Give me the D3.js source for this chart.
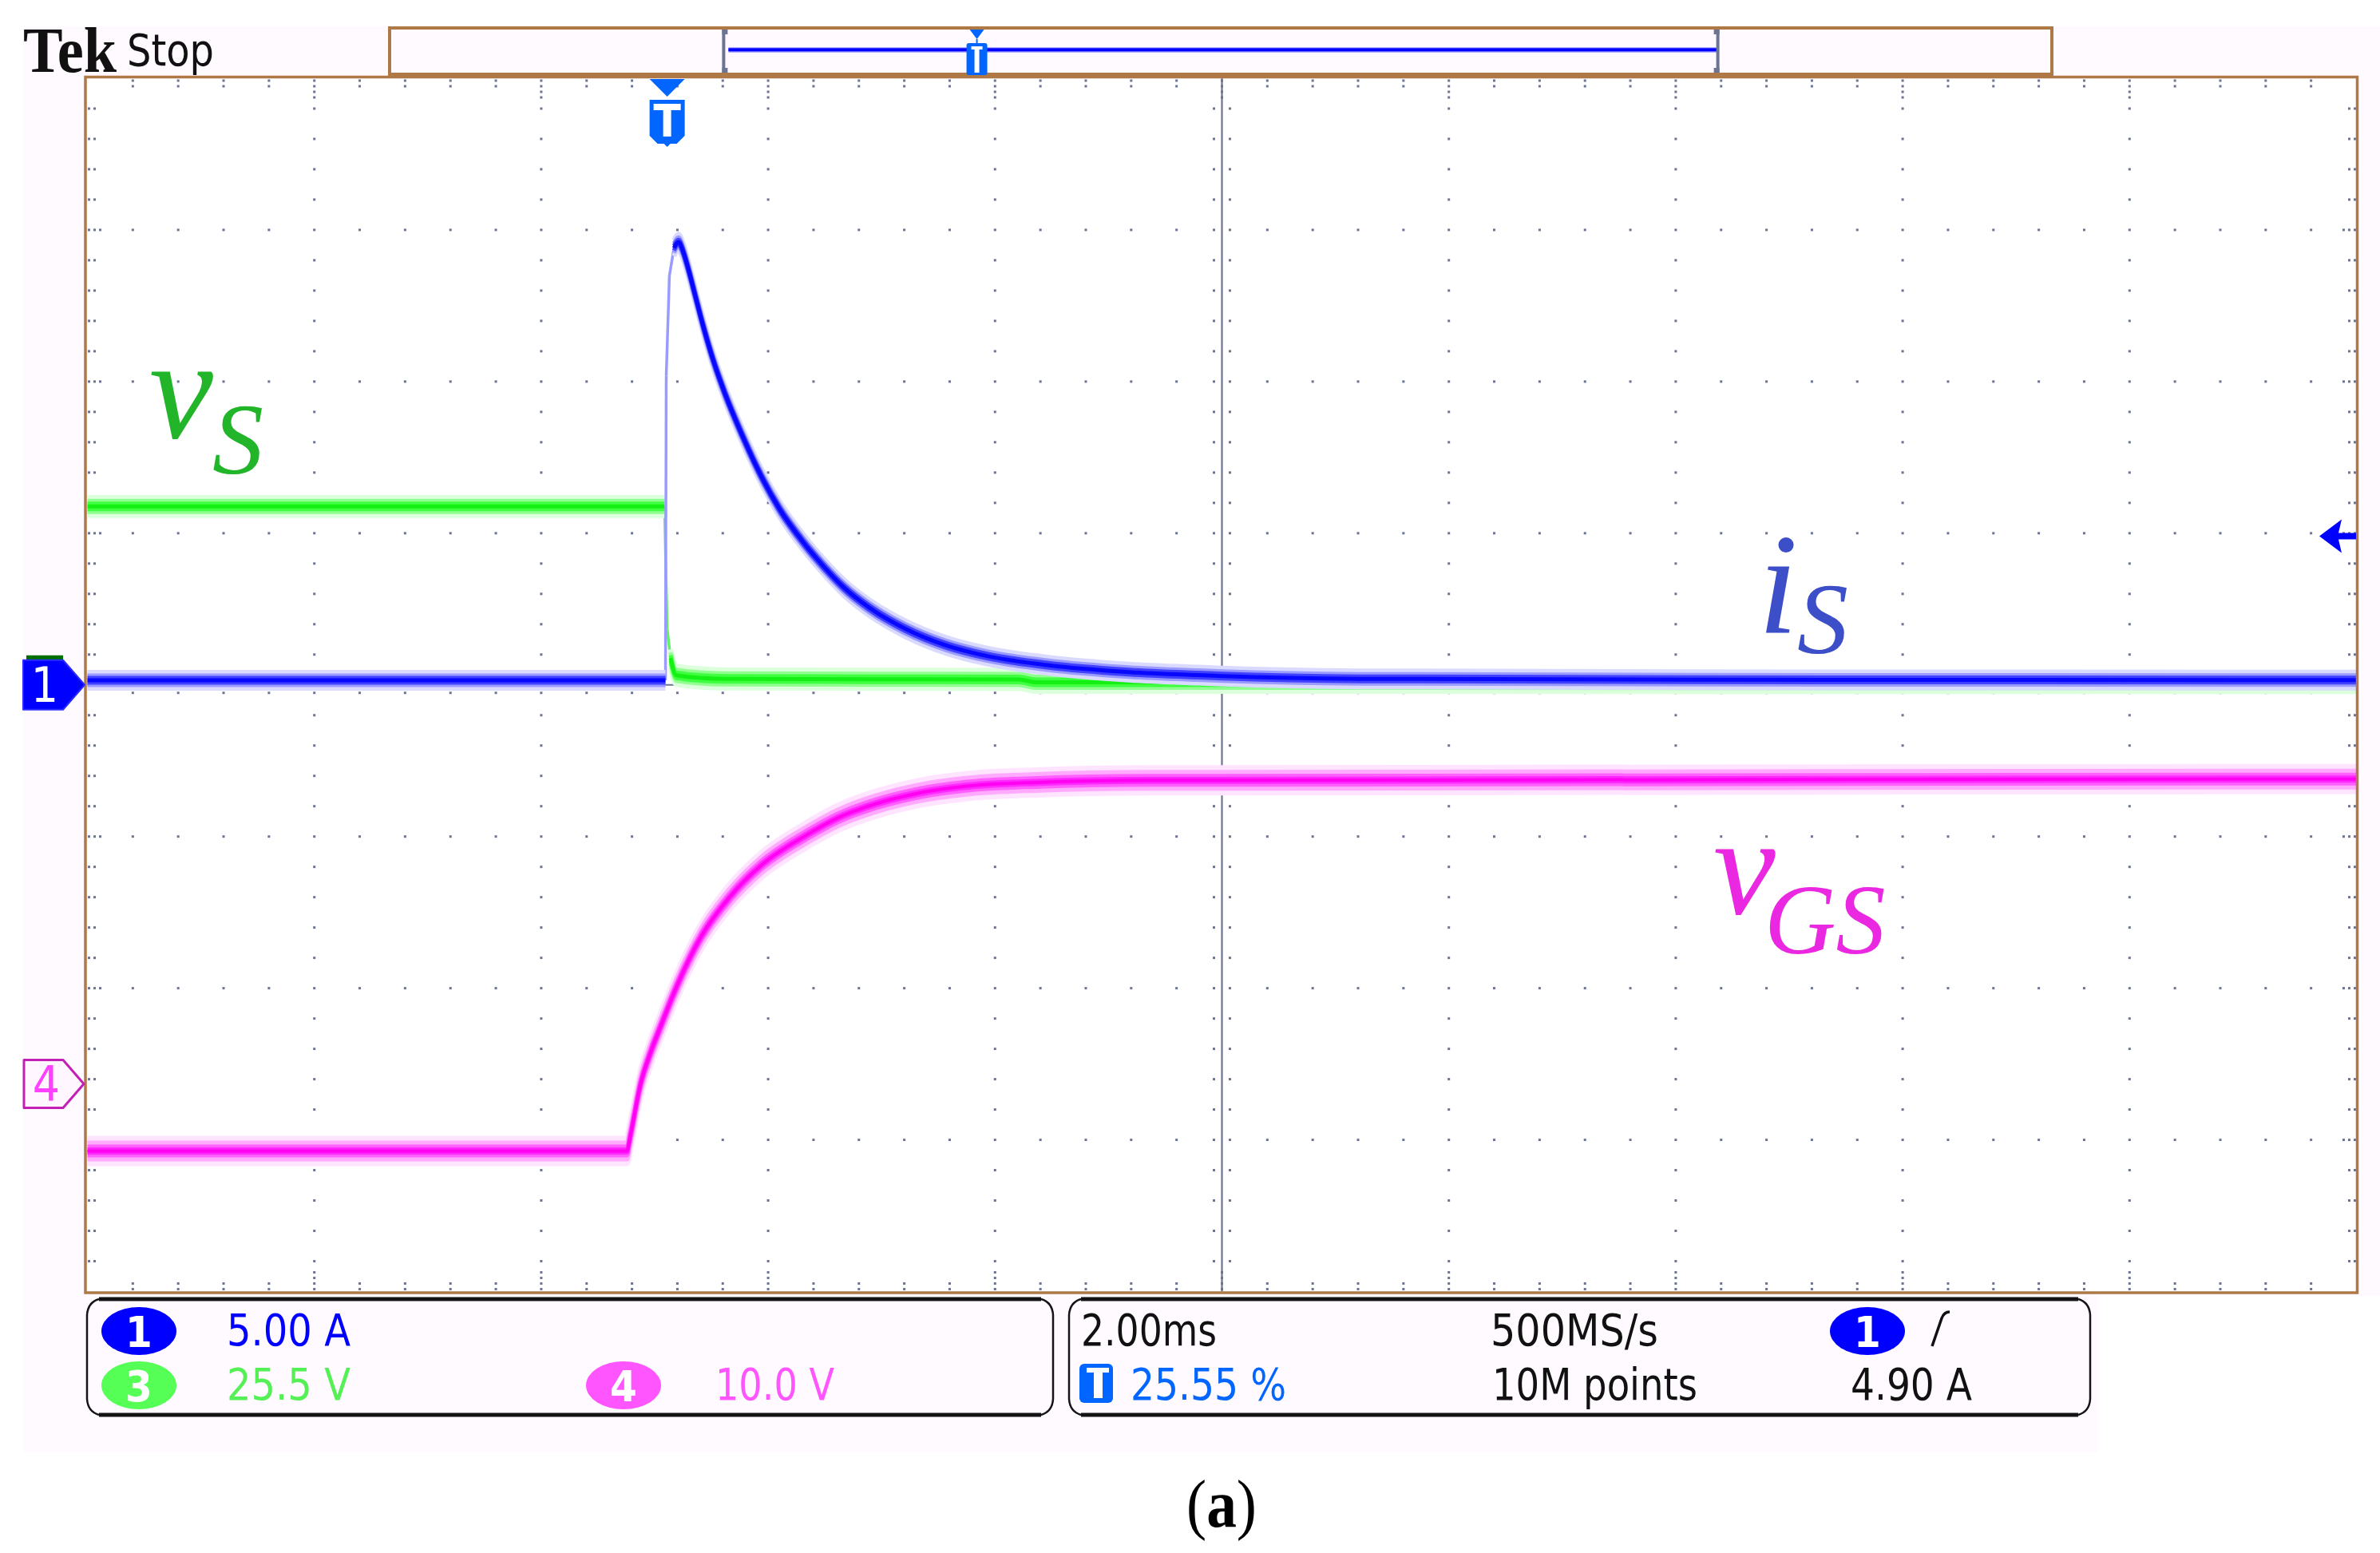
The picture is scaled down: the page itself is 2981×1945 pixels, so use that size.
<!DOCTYPE html>
<html><head><meta charset="utf-8">
<script src="https://cdn.jsdelivr.net/npm/d3@7"></script>
<style>html,body{margin:0;padding:0;background:#fff;}svg{display:block;}</style>
</head><body>
<svg id="c" width="2981" height="1945"></svg>
<script>
// ---------------- data (read from the oscilloscope capture) ----------------
const timeDomain = [-5.11, 14.89];            // ms across 10 div (2.00 ms/div, trigger at 25.55 %)
// i_S, channel 1 (A)
const iS_t = [-5.11, -0.015, -0.008, 0.02, 0.06, 0.10, 0.14, 0.18, 0.25, 0.32, 0.415, 0.51, 0.665, 0.84, 0.99, 1.20, 1.38, 1.56, 1.78, 2.10, 2.46, 2.82, 3.35, 4.07, 4.68, 6.10, 9.00, 14.89];
const iS_A = [0.15, 0.15, 10.2, 13.5, 14.4, 14.6, 14.3, 13.8, 12.8, 11.8, 10.6, 9.6, 8.2, 6.8, 5.8, 4.7, 3.9, 3.2, 2.55, 1.85, 1.30, 0.95, 0.65, 0.42, 0.32, 0.20, 0.17, 0.16];
// v_S, channel 3 (V)
const vS_t = [-5.11, -0.023, 0.0, 0.03, 0.08, 0.5, 3.1, 3.25, 14.89];
const vS_V = [30.0, 30.0, 9.4, 4.5, 1.6, 1.0, 0.9, 0.45, 0.4];
// v_GS, channel 4 (V)
const vGS_t = [-5.11, -0.354, -0.328, -0.233, -0.150, -0.061, 0.080, 0.298, 0.552, 0.833, 1.213, 1.523, 1.840, 2.220, 2.628, 3.25, 4.25, 14.89];
const vGS_V = [-4.43, -4.43, -3.55, 0.04, 2.0, 3.73, 6.36, 9.70, 12.33, 14.44, 16.34, 17.60, 18.47, 19.18, 19.62, 19.88, 20.02, 20.1];

const chNumbers   = ["1", "3", "4"];
const chVoltsDiv  = [5, 25.5, 10];
const chSettings  = ["5.00 A", "25.5 V", "10.0 V"];
const horizLabels = ["2.00ms", "25.55 %", "500MS/s", "10M points"];
const trigLabels  = ["1", "4.90 A"];
const trigLevel   = 4.90;   // A
const traceNames  = [["v", "S"], ["i", "S"], ["v", "GS"]];

// ---------------- layout ----------------
const W = 2981, H = 1945;
const svg = d3.select("#c");
const gx = d3.scaleLinear().domain([0, 10]).range([109.5, 2951.5]);   // divisions
const gy = d3.scaleLinear().domain([0, 8]).range([98, 1617.5]);
const x = d3.scaleLinear().domain(timeDomain).range([gx(0), gx(10)]);
function chScale(vpd, posDiv) {
  return d3.scaleLinear().domain([(-4 - posDiv) * vpd, (4 - posDiv) * vpd]).range([gy(8), gy(0)]);
}
const y1 = chScale(chVoltsDiv[0], 0);
const y3 = chScale(chVoltsDiv[1], 0);
const y4 = chScale(chVoltsDiv[2], -2.631);

const BROWN = "#ae7847", GRID = "#6b7492", PINK = "#fffaff";
const uiFont = "'DejaVu Sans Condensed','Liberation Sans Narrow','DejaVu Sans',sans-serif";
const serif = "'Liberation Serif','Times New Roman',serif";

svg.append("rect").attr("width", W).attr("height", H).attr("fill", "#fff");
svg.append("rect").attr("x", 29).attr("y", 33).attr("width", W - 29).attr("height", 1590).attr("fill", PINK);
svg.append("rect").attr("x", 29).attr("y", 1620).attr("width", 2599).attr("height", 198).attr("fill", PINK);

// record view box
svg.append("rect").attr("x", 488).attr("y", 35).attr("width", 2082).attr("height", 58)
  .attr("fill", PINK).attr("stroke", BROWN).attr("stroke-width", 4);
const rv = d3.scaleLinear().domain([0, 1]).range([488, 2570]);
svg.append("rect").attr("x", rv(0.2) + 8).attr("y", 59.5).attr("width", rv(0.8) - rv(0.2) - 10).attr("height", 6).attr("fill", "#6a6aff");
svg.append("rect").attr("x", rv(0.2) + 8).attr("y", 60.5).attr("width", rv(0.8) - rv(0.2) - 10).attr("height", 3.5).attr("fill", "#0000ff");
[[rv(0.2), 1], [rv(0.8), -1]].forEach(([bx, s]) => {
  svg.append("rect").attr("x", s > 0 ? bx : bx - 4).attr("y", 37).attr("width", 4).attr("height", 54).attr("fill", GRID);
  svg.append("rect").attr("x", s > 0 ? bx : bx - 7).attr("y", 37).attr("width", 7).attr("height", 6).attr("fill", GRID);
  svg.append("rect").attr("x", s > 0 ? bx : bx - 7).attr("y", 85).attr("width", 7).attr("height", 6).attr("fill", GRID);
});
{
  const tx = rv(0.2) + 0.2555 * (rv(0.8) - rv(0.2));
  svg.append("path").attr("d", `M${tx-9},37 H${tx+9} L${tx},49 Z`).attr("fill", "#0066ff");
  svg.append("rect").attr("x", tx - 1).attr("y", 49).attr("width", 2).attr("height", 5).attr("fill", "#0066ff");
  svg.append("rect").attr("x", tx - 13).attr("y", 54).attr("width", 26).attr("height", 40).attr("rx", 3).attr("fill", "#0066ff");
  svg.append("rect").attr("x", tx - 7).attr("y", 58).attr("width", 14).attr("height", 4).attr("fill", "#fff");
  svg.append("rect").attr("x", tx - 3).attr("y", 58).attr("width", 6).attr("height", 33).attr("fill", "#fff");
}

// Tek Stop
svg.append("text").attr("x", 29).attr("y", 90).attr("font-family", serif).attr("font-weight", "bold")
  .attr("font-size", 80).attr("textLength", 117).attr("lengthAdjust", "spacingAndGlyphs").attr("fill", "#111").text("Tek");
svg.append("text").attr("x", 159).attr("y", 82).attr("font-family", uiFont).attr("font-size", 55)
  .attr("textLength", 109).attr("lengthAdjust", "spacingAndGlyphs").attr("fill", "#111").text("Stop");

// plot interior
svg.append("rect").attr("x", 107).attr("y", 96.5).attr("width", 2845.5).attr("height", 1522.5).attr("fill", "#fff");
svg.append("defs").append("clipPath").attr("id", "plotClip").append("rect")
  .attr("x", 108.5).attr("y", 98).attr("width", 2842.5).attr("height", 1519.5);

// graticule dots
const dots = [];
for (let i = 1; i <= 9; i++) if (i !== 5) for (let k = 1; k <= 39; k++) dots.push([gx(i), gy(k / 5)]);
for (let j = 1; j <= 7; j++) if (j !== 4) for (let k = 1; k <= 49; k++) if (k % 5 !== 0) dots.push([gx(k / 5), gy(j)]);
for (let k = 1; k <= 49; k++) {
  const px = gx(k / 5), maj = k % 5 === 0;
  [3, 10].concat(maj ? [17, 24] : []).forEach(o => { dots.push([px, gy(0) + o]); dots.push([px, gy(8) - o]); });
  if (k !== 25) { dots.push([px, gy(4) - 10]); dots.push([px, gy(4) + 10]); }
}
for (let k = 1; k <= 39; k++) {
  const py = gy(k / 5), maj = k % 5 === 0;
  [2, 9].concat(maj ? [16] : []).forEach(o => { dots.push([gx(0) + o, py]); dots.push([gx(10) - o, py]); });
  if (k !== 20) { dots.push([gx(5) - 10, py]); dots.push([gx(5) + 10, py]); }
}
svg.append("g").selectAll("rect").data(dots).join("rect")
  .attr("x", d => d[0] - 1.5).attr("y", d => d[1] - 1.5).attr("width", 3).attr("height", 3).attr("fill", GRID);
svg.append("line").attr("x1", gx(5)).attr("x2", gx(5)).attr("y1", gy(0)).attr("y2", gy(8)).attr("stroke", GRID).attr("stroke-width", 2.2);
svg.append("line").attr("x1", gx(0)).attr("x2", gx(10)).attr("y1", gy(4)).attr("y2", gy(4)).attr("stroke", GRID).attr("stroke-width", 2.2);

// traces (persistence look: layered, vertically spread strokes)
const plot = svg.append("g").attr("clip-path", "url(#plotClip)");
function drawTrace(ts, vs, yS, layers, edgeColor) {
  const pts = ts.map((t, i) => [x(t), yS(vs[i])]);
  const runs = [], edges = [];
  let cur = [pts[0]];
  for (let i = 1; i < pts.length; i++) {
    const dx = pts[i][0] - pts[i - 1][0], dy = pts[i][1] - pts[i - 1][1];
    if (Math.abs(dy) > 30 && Math.abs(dy) > 6 * Math.abs(dx)) {
      edges.push([pts[i - 1], pts[i]]); runs.push(cur); cur = [pts[i]];
    } else cur.push(pts[i]);
  }
  runs.push(cur);
  const g = plot.append("g");
  const line = d3.line().curve(d3.curveMonotoneX);
  edges.forEach(e => g.append("path").attr("d", d3.line()(e)).attr("fill", "none")
    .attr("stroke", edgeColor).attr("stroke-width", 3.5));
  layers.forEach(L => {
    const offs = L.off > 0 ? [-L.off, L.off] : [0];
    offs.forEach(o => runs.filter(r => r.length > 1).forEach(r => {
      g.append("path").attr("d", line(r)).attr("transform", `translate(0,${o})`)
        .attr("fill", "none").attr("stroke", L.c).attr("stroke-width", L.w).attr("stroke-linejoin", "round");
    }));
  });
}
drawTrace(vS_t, vS_V, y3, [
  { off: 11, w: 7, c: "#dcffdc" }, { off: 7, w: 5, c: "#90ff90" }, { off: 3.5, w: 5, c: "#40ff40" }, { off: 0, w: 5, c: "#14f014" }
], "#66ee66");
drawTrace(vGS_t, vGS_V, y4, [
  { off: 15, w: 8, c: "#ffe4ff" }, { off: 10, w: 6, c: "#ffaaff" }, { off: 5.5, w: 5, c: "#ff60ff" }, { off: 2, w: 5, c: "#ff28ff" }, { off: 0, w: 4, c: "#ff00f0" }
], "#ff88ff");
drawTrace(iS_t, iS_A, y1, [
  { off: 10, w: 6, c: "#dadaff" }, { off: 6, w: 5, c: "#9a9aff" }, { off: 3, w: 5, c: "#4040ff" }, { off: 0, w: 5, c: "#0808ff" }
], "#9a9aff");

// plot border
svg.append("rect").attr("x", 107).attr("y", 96.5).attr("width", 2845.5).attr("height", 1522.5)
  .attr("fill", "none").attr("stroke", BROWN).attr("stroke-width", 3.5);

// trigger position marker
{
  const t0 = x(0);
  svg.append("path").attr("d", `M${t0-22},99 H${t0+22} L${t0},121 Z`).attr("fill", "#0066ff");
  svg.append("path").attr("d", `M${t0-22},125 H${t0+22} V170 L${t0+12},180 H${t0+4} L${t0},184 L${t0-4},180 H${t0-12} L${t0-22},170 Z`).attr("fill", "#0066ff");
  svg.append("rect").attr("x", t0 - 17).attr("y", 130).attr("width", 34).attr("height", 8).attr("fill", "#fff");
  svg.append("rect").attr("x", t0 - 5).attr("y", 130).attr("width", 10).attr("height", 41).attr("fill", "#fff");
}
// trigger level arrow
{
  const ty = y1(trigLevel);
  svg.append("path").attr("d", `M2905,${ty} L2933,${ty-21} L2929,${ty-4} H2951 V${ty+4} H2929 L2933,${ty+21} Z`).attr("fill", "#0000ff");
}
// channel ground markers
{
  const c1 = y1(0), c4 = y4(0);
  svg.append("rect").attr("x", 33).attr("y", c1 - 37).attr("width", 46).attr("height", 6).attr("fill", "#006f00");
  svg.append("path").attr("d", `M29,${c1-31} H79 L106,${c1} L79,${c1+31} H29 Z`).attr("fill", "#0000ff")
    .attr("stroke", "#2a2aff").attr("stroke-width", 2).attr("stroke-linejoin", "round");
  svg.append("text").attr("x", 56).attr("y", c1 + 21).attr("text-anchor", "middle").attr("font-family", uiFont)
    .attr("font-size", 60).attr("fill", "#fff").text(chNumbers[0]);
  svg.append("path").attr("d", `M30,${c4-30} H79 L105,${c4} L79,${c4+30} H30 Z`).attr("fill", "#fff6ff")
    .attr("stroke", "#c41fb4").attr("stroke-width", 3).attr("stroke-linejoin", "round");
  svg.append("text").attr("x", 58).attr("y", c4 + 21).attr("text-anchor", "middle").attr("font-family", uiFont)
    .attr("font-size", 60).attr("fill", "#ff40ff").text(chNumbers[2]);
}

// trace labels (one text element each, subscript as a tspan)
function label(base, sub, color) {
  const t = svg.append("text").attr("font-family", serif).attr("font-style", "italic").attr("fill", color);
  t.append("tspan").attr("x", base[0]).attr("y", base[1]).attr("font-size", base[2]).text(base[3]);
  t.append("tspan").attr("x", sub[0]).attr("y", sub[1]).attr("font-size", sub[2]).text(sub[3]);
}
label([187, 548, 180, traceNames[0][0]], [266, 593, 128, traceNames[0][1]], "#22b52a");
label([2202, 792, 180, traceNames[1][0]], [2251, 818, 128, traceNames[1][1]], "#3c4ec8");
label([2146, 1144, 175, traceNames[2][0]], [2210, 1194, 124, traceNames[2][1]], "#eb28e1");

// info boxes
function infoBox(x0, x1, y0, y1) {
  svg.append("rect").attr("x", x0).attr("y", y0).attr("width", x1 - x0).attr("height", y1 - y0).attr("fill", PINK);
  svg.append("path").attr("d", `M${x0+17},${y0} H${x1-17} M${x0+17},${y1} H${x1-17}`).attr("stroke", "#141414").attr("stroke-width", 5);
  svg.append("path").attr("d", `M${x0+17},${y0} Q${x0+3},${y0+4} ${x0+2},${y0+20} V${y1-20} Q${x0+3},${y1-4} ${x0+17},${y1} M${x1-17},${y0} Q${x1-3},${y0+4} ${x1-2},${y0+20} V${y1-20} Q${x1-3},${y1-4} ${x1-17},${y1}`)
    .attr("fill", "none").attr("stroke", "#141414").attr("stroke-width", 2.5);
}
infoBox(107, 1321, 1627, 1772);
infoBox(1337, 2620, 1627, 1772);
function chip(cx, cy, fill, txt) {
  svg.append("ellipse").attr("cx", cx).attr("cy", cy).attr("rx", 47).attr("ry", 30).attr("fill", fill);
  svg.append("text").attr("x", cx).attr("y", cy + 20).attr("text-anchor", "middle").attr("font-family", uiFont)
    .attr("font-weight", "bold").attr("font-size", 54).attr("fill", "#fff").text(txt);
}
function ui(xp, yp, str, color, len) {
  svg.append("text").attr("x", xp).attr("y", yp).attr("font-family", uiFont).attr("font-size", 55)
    .attr("fill", color).attr("textLength", len).attr("lengthAdjust", "spacingAndGlyphs").text(str);
}
chip(174, 1667, "#0000ff", chNumbers[0]);
chip(174, 1735, "#55ff55", chNumbers[1]);
chip(781, 1735, "#ff55ff", chNumbers[2]);
ui(284, 1685, chSettings[0], "#0000ff", 155);
ui(284, 1753, chSettings[1], "#55f055", 155);
ui(896, 1753, chSettings[2], "#ff55ff", 149);
ui(1354, 1685, horizLabels[0], "#111", 170);
svg.append("rect").attr("x", 1352).attr("y", 1708).attr("width", 42).attr("height", 49).attr("rx", 6).attr("fill", "#0066ff");
svg.append("rect").attr("x", 1361).attr("y", 1713).attr("width", 28).attr("height", 6).attr("fill", "#fff");
svg.append("rect").attr("x", 1370).attr("y", 1713).attr("width", 11).attr("height", 38).attr("fill", "#fff");
ui(1416, 1753, horizLabels[1], "#0066ff", 195);
ui(1867, 1685, horizLabels[2], "#111", 210);
ui(1869, 1753, horizLabels[3], "#111", 257);
chip(2339, 1667, "#0000ff", trigLabels[0]);
svg.append("path").attr("d", "M2420,1686 L2432,1651 Q2435,1643 2442,1643").attr("fill", "none").attr("stroke", "#111").attr("stroke-width", 3.5);
ui(2318, 1753, trigLabels[1], "#111", 152);

// caption
const cap = svg.append("text").attr("x", 1530).attr("y", 1912).attr("text-anchor", "middle")
  .attr("font-family", serif).attr("font-size", 85).attr("fill", "#000")
  .attr("textLength", 88).attr("lengthAdjust", "spacingAndGlyphs");
cap.append("tspan").text("(");
cap.append("tspan").attr("font-weight", "bold").text("a");
cap.append("tspan").text(")");
</script>
</body></html>
